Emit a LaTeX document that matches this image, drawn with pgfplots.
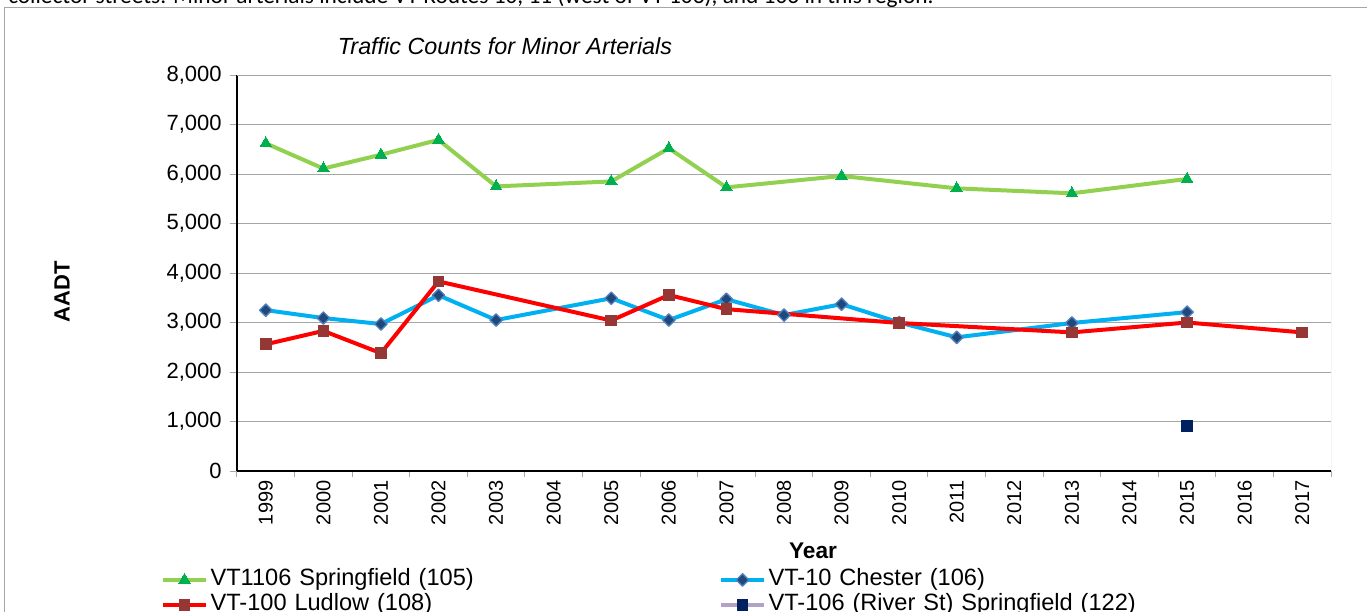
\documentclass[border=0pt]{standalone}
\usepackage{pgfplots}
\pgfplotsset{compat=1.18}
\usepackage{fontspec}
\setmainfont{Liberation Sans}
\newfontfamily\calib{Carlito}
\definecolor{lgreen}{HTML}{92D050}
\definecolor{dgreen}{HTML}{00B050}
\definecolor{lblue}{HTML}{00B0F0}
\definecolor{navyd}{HTML}{1F497D}
\definecolor{edgeb}{HTML}{4F81BD}
\definecolor{redl}{HTML}{FF0000}
\definecolor{brownm}{HTML}{953735}
\definecolor{navy}{HTML}{002060}
\definecolor{lav}{HTML}{B3A2C7}
\definecolor{gridg}{HTML}{A6A6A6}
\begin{document}
\begin{tikzpicture}
\useasboundingbox (-177.75pt,-105pt) rectangle (847.5pt,353.25pt);
\clip (-177.75pt,-105pt) rectangle (847.5pt,353.25pt);
\node[anchor=base west, inner sep=0pt, font=\calib\fontsize{17.5}{20}\selectfont] at (-171.75pt,350.25pt) {collector streets. Minor arterials include VT Routes 10, 11 (west of VT 103), and 106 in this region.};
\draw[gridg, line width=0.75pt] (-174pt,-130pt) rectangle (870pt,347.25pt);
\begin{axis}[
  at={(0,0)}, anchor=south west, scale only axis,
  width=820.5pt, height=297pt,
  xmin=-0.5, xmax=18.5, ymin=0, ymax=8000,
  axis lines*=left,
  axis line style={black, line width=1pt},
  xtick={0,...,18},
  xticklabels={1999,2000,2001,2002,2003,2004,2005,2006,2007,2008,2009,2010,2011,2012,2013,2014,2015,2016,2017},
  minor xtick={-0.5,0.5,...,18.5},
  major x tick style={draw=none},
  minor x tick style={draw=gridg, line width=0.75pt},
  minor tick length=4.5pt,
  ytick={0,1000,...,8000},
  major y tick style={draw=gridg, line width=0.75pt},
  major tick length=5pt,
  tick align=outside,
  ymajorgrids,
  grid style={gridg, line width=0.75pt},
  x tick label style={rotate=90, anchor=east, inner sep=2pt, font=\fontsize{15}{18}\selectfont},
  y tick label style={font=\fontsize{16.5}{19}\selectfont, xshift=-3pt},
  /pgf/number format/1000 sep={,},
  /pgf/number format/assume math mode=true,
  legend columns=2,
  legend cell align=left,
  legend style={at={(axis description cs:-0.0695,-0.2424)}, anchor=north west, draw=none, fill=none, inner sep=0pt,
    font=\fontsize{17.7}{20}\selectfont,
    nodes={inner sep=2pt, text height=12pt, text depth=3pt, text width=379.5pt, align=left},
    row sep=-0.25pt, column sep=0pt},
  legend image code/.code={\draw[mark repeat=2,mark phase=2,#1] plot coordinates {(0pt,0pt)(16pt,0pt)(32pt,0pt)};},
  every axis plot/.append style={line join=round},
]
\addplot[lgreen, line width=3pt, mark=triangle*, mark size=5pt, mark options={dgreen, fill=dgreen, line width=0pt}]
  coordinates {(0,6620)(1,6110)(2,6390)(3,6690)(4,5750)(6,5850)(7,6520)(8,5730)(10,5960)(12,5710)(14,5610)(16,5900)};
\addlegendentry{VT1106 Springfield (105)}
\addplot[lblue, line width=3pt, mark=square*, mark size=3.3pt, mark options={rotate=45, draw=edgeb, fill=navyd, line width=1pt}]
  coordinates {(0,3250)(1,3090)(2,2970)(3,3550)(4,3050)(6,3490)(7,3050)(8,3470)(9,3150)(10,3370)(11,3000)(12,2700)(14,2990)(16,3210)};
\addlegendentry{VT-10 Chester (106)}
\addplot[redl, line width=3pt, mark=square*, mark size=4pt, mark options={brownm, fill=brownm, line width=0pt}]
  coordinates {(0,2560)(1,2830)(2,2380)(3,3830)(6,3040)(7,3555)(8,3270)(11,2990)(14,2800)(16,3000)(18,2800)};
\addlegendentry{VT-100 Ludlow (108)}
\addplot[lav, line width=3pt, mark=square*, mark size=4pt, mark options={navy, fill=navy, line width=0pt}]
  coordinates {(16,910)};
\addlegendentry{VT-106 (River St) Springfield (122)}
\draw[gridg, line width=0.75pt] (rel axis cs:0,1) -- (rel axis cs:1,1) -- (rel axis cs:1,0);
\end{axis}
\node[font=\fontsize{17.5}{21}\itshape] at (201pt,318.75pt) {Traffic Counts for Minor Arterials};
\node[font=\fontsize{16.5}{20}\bfseries, rotate=90] at (-131.25pt,134.25pt) {AADT};
\node[font=\fontsize{17}{20}\bfseries] at (432pt,-60pt) {Year};
\end{tikzpicture}
\end{document}
